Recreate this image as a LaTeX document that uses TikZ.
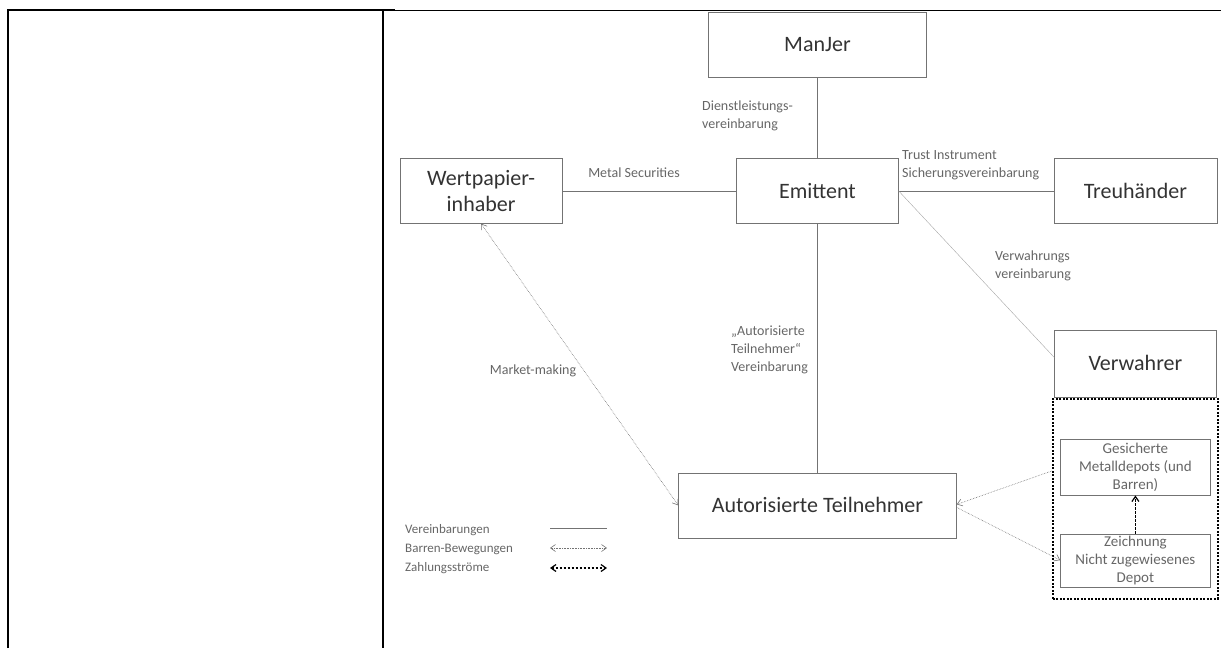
\documentclass[tikz,border=0pt]{standalone}
\usepackage{fontspec}
\setmainfont{Carlito}
\usetikzlibrary{positioning,calc,arrows.meta}
\definecolor{boxline}{gray}{0.45}
\definecolor{boxtext}{gray}{0.2}
\definecolor{labeltext}{gray}{0.4}
\tikzset{
    block/.style = {draw=boxline, rectangle, text=boxtext,
        minimum height=65pt,
        minimum width=162pt, align=center, font=\fontsize{22}{26}\selectfont},
    depotblock/.style = {draw=boxline, rectangle, text=labeltext,
        minimum width=150pt, align=center, inner sep=1pt,
        font=\fontsize{15}{18}\selectfont},
    lbl/.style = {text=labeltext, align=left, inner sep=0pt,
        font=\fontsize{14}{18}\selectfont},
    legend/.style = {lbl, anchor=west, font=\fontsize{13}{16}\selectfont},
    agree/.style = {draw=boxline},
    barren/.style = {draw=gray!90!black, densely dotted, semithick, >={Straight Barb[length=5pt,width=7pt]}},
    zahlung/.style = {draw=black, dash pattern=on 2.5pt off 1.5pt, line width=1.2pt, >={Straight Barb[length=5pt,width=7pt]}},
    depotframe/.style = {draw=black, dash pattern=on 2pt off 1.5pt, line width=1.4pt, rectangle,
        minimum width=165pt, minimum height=200pt}
}

\begin{document}
\begin{tikzpicture}[x=1pt, y=-1pt, node distance=2cm]
    \useasboundingbox (0,0) rectangle (1221,648);
    % frame
    \draw [line width=2pt] (8,648) -- (8,10) -- (395,10);
    \draw [line width=2pt] (383,10) -- (383,648);
    \draw [line width=1pt] (395,10) -- (1221,10);

    \node [block] (emittent) at (817.5,191) {Emittent};
    \node [block, above=81pt of emittent, minimum width=218pt] (manjer) {ManJer};
    \node [block, left=174pt of emittent] (wert) {Wertpapier-\\inhaber};
    \node [block, right=155pt of emittent, minimum width=163pt] (treu) {Treuhänder};
    \node [block, below=106pt of treu, minimum height=67pt] (verwahrer) {Verwahrer};
    \node [block, below=249pt of emittent, minimum width=278pt] (autor) {Autorisierte Teilnehmer};
    \node [depotframe, below=1pt of verwahrer] (depot) {};
    \node [depotblock, below=41pt of depot.north, minimum height=56pt] (gesichert) {Gesicherte\\Metalldepots (und\\Barren)};
    \node [depotblock, below=38pt of gesichert, minimum height=53pt] (zeichnung) {Zeichnung\\Nicht zugewiesenes\\Depot};

    % vereinbarungen
    \draw [agree] (manjer) -- (emittent);
    \draw [agree] (wert) -- (emittent);
    \draw [agree] (emittent) -- (treu);
    \draw [agree] (emittent) -- (autor);
    \draw [agree, draw=gray!70] (emittent.east) -- ($(verwahrer.west)+(0,-6)$);
    \node [lbl, anchor=west] (dienst) at (702,116) {Dienstleistungs-\\vereinbarung};
    \node [lbl] (metal) at (634,173) {Metal Securities};
    \node [lbl, anchor=west] (trust) at (902,165) {Trust Instrument\\Sicherungsvereinbarung};
    \node [lbl, anchor=west] (verwvb) at (995,266) {Verwahrungs\\vereinbarung};
    \node [lbl, anchor=west] (apvb) at (731,350) {„Autorisierte\\Teilnehmer“\\Vereinbarung};

    % barren und zahlungen
    \draw [barren, <->] (wert.south) -- (autor.west);
    \node [lbl] (market) at (533,371) {Market-making};
    \draw [barren, ->] ($(depot.west)+(0,-28)$) -- ($(autor.east)+(0,-1)$);
    \draw [barren, ->] ($(autor.east)+(0,2)$) -- (zeichnung.west);
    \draw [zahlung, ->] (zeichnung) -- (gesichert);

    % legende
    \node [legend] (legagree) at (405,530) {Vereinbarungen};
    \node [legend] (legbarren) at (405,549) {Barren-Bewegungen};
    \node [legend] (legzahl) at (405,568) {Zahlungsströme};
    \coordinate (la1) at (550,528);
    \coordinate (la2) at (607,528);
    \coordinate (lb1) at (550,548);
    \coordinate (lb2) at (607,548);
    \coordinate (lc1) at (550,568);
    \coordinate (lc2) at (607,568);
    \draw [agree] (la1) -- (la2);
    \draw [barren, <->] (lb1) -- (lb2);
    \draw [zahlung, <->] (lc1) -- (lc2);
\end{tikzpicture}
\end{document}
